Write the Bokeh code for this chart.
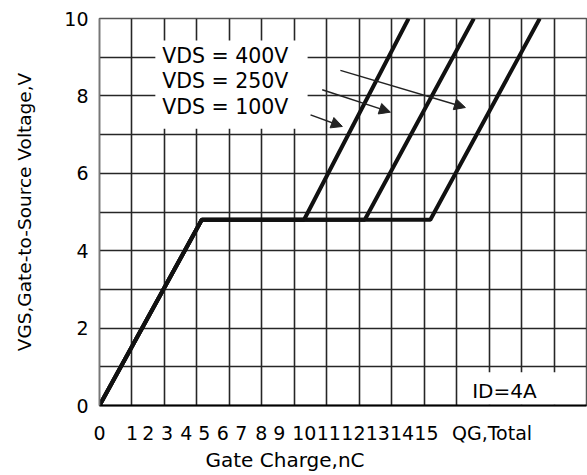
from bokeh.plotting import figure
from bokeh.models import Range1d, FixedTicker, Arrow, NormalHead, Title
from bokeh.core.properties import value
from bokeh.embed import file_html
from bokeh.resources import INLINE

# ---- data (x in chart grid units, y in volts) ----
vgs = [0, 4.8, 4.8, 10]
qg_100v = [0, 3.15, 6.30, 9.52]
qg_250v = [0, 3.15, 8.17, 11.53]
qg_400v = [0, 3.15, 10.19, 13.56]

legend_texts = ["VDS = 400V", "VDS = 250V", "VDS = 100V"]
legend_x = [1.93, 1.93, 1.93]
legend_y = [9.04, 8.38, 7.71]

arrow_x0 = [6.50, 6.86, 7.42]
arrow_y0 = [7.51, 8.16, 8.66]
arrow_x1 = [7.48, 8.96, 11.27]
arrow_y1 = [7.21, 7.58, 7.70]

xtick_pos = [0, 1.0, 1.5, 2.08, 2.67, 3.23, 3.80, 4.37, 4.98, 5.54,
             6.31, 7.06, 7.82, 8.57, 9.32, 10.07, 12.09]
xtick_labels = ["0", "1", "2", "3", "4", "5", "6", "7", "8", "9",
                "10", "11", "12", "13", "14", "15", "QG,Total"]
ytick_pos = [0, 2, 4, 6, 8, 10]

FONT = "DejaVu Sans"
GRID = "#262626"

p = figure(width=587, height=475, x_range=Range1d(0, 15), y_range=Range1d(0, 10),
           output_backend="svg", toolbar_location=None,
           min_border_left=99, min_border_right=1, min_border_top=18, min_border_bottom=70)
p.background_fill_color = "white"
p.border_fill_color = "white"
p.outline_line_color = "#555555"
p.outline_line_width = 1.5

p.xgrid.ticker = FixedTicker(ticks=list(range(1, 15)))
p.ygrid.ticker = FixedTicker(ticks=list(range(1, 10)))
for g in (p.xgrid, p.ygrid):
    g.grid_line_color = GRID
    g.grid_line_width = 1.6
    g.grid_line_alpha = 1.0

# x axis
p.xaxis.ticker = FixedTicker(ticks=xtick_pos)
p.xaxis.major_label_overrides = {pos: lab for pos, lab in zip(xtick_pos, xtick_labels)}
p.xaxis.major_tick_out = 0
p.xaxis.major_tick_in = 0
p.xaxis.minor_tick_out = 0
p.xaxis.minor_tick_in = 0
p.xaxis.major_label_standoff = 16
p.xaxis.major_label_text_font = FONT
p.xaxis.major_label_text_font_size = "19px"
p.xaxis.major_label_text_color = "black"
p.xaxis.axis_line_color = "black"
p.xaxis.axis_line_width = 2

# y axis
p.yaxis.ticker = FixedTicker(ticks=ytick_pos)
p.yaxis.major_tick_out = 0
p.yaxis.major_tick_in = 0
p.yaxis.minor_tick_out = 0
p.yaxis.minor_tick_in = 0
p.yaxis.major_label_standoff = 11
p.yaxis.major_label_text_font = FONT
p.yaxis.major_label_text_font_size = "19px"
p.yaxis.major_label_text_color = "black"
p.yaxis.axis_line_color = "#777777"
p.yaxis.axis_line_width = 1.5
p.yaxis.axis_label = "VGS,Gate-to-Source Voltage,V"
p.yaxis.axis_label_text_font = FONT
p.yaxis.axis_label_text_font_size = "18.5px"
p.yaxis.axis_label_text_font_style = "normal"
p.yaxis.axis_label_text_color = "black"
p.yaxis.axis_label_standoff = 26

# white boxes behind texts (cover grid)
p.quad(left=[1.72, 11.05], right=[6.41, 14.95], bottom=[7.15, 0.02], top=[9.43, 0.86],
       fill_color="white", line_color=None)

# curves
for xs in (qg_100v, qg_250v, qg_400v):
    p.line(xs, vgs, line_color="#111111", line_width=4)

# legend texts
p.text(x=legend_x, y=legend_y, text=legend_texts, text_font=value(FONT),
       text_font_size="20.5px", text_baseline="alphabetic", text_align="left",
       text_color="black")
p.text(x=[11.48], y=[0.38], text=["ID=4A"], text_font=value(FONT),
       text_font_size="20px", text_baseline="alphabetic", text_align="left",
       text_color="black")

# arrows
for xa, ya, xb, yb in zip(arrow_x0, arrow_y0, arrow_x1, arrow_y1):
    p.add_layout(Arrow(end=NormalHead(size=11, fill_color="#222222", line_color="#222222"),
                       x_start=xa, y_start=ya, x_end=xb, y_end=yb,
                       line_color="#222222", line_width=1.5))

# x axis title (offset to the left as in the reference)
p.add_layout(Title(text="Gate Charge,nC", text_font=FONT, text_font_size="20px",
                   text_font_style="normal", text_color="black", align="left",
                   offset=106, standoff=-2), "below")

open("out.html", "w").write(file_html(p, INLINE))
